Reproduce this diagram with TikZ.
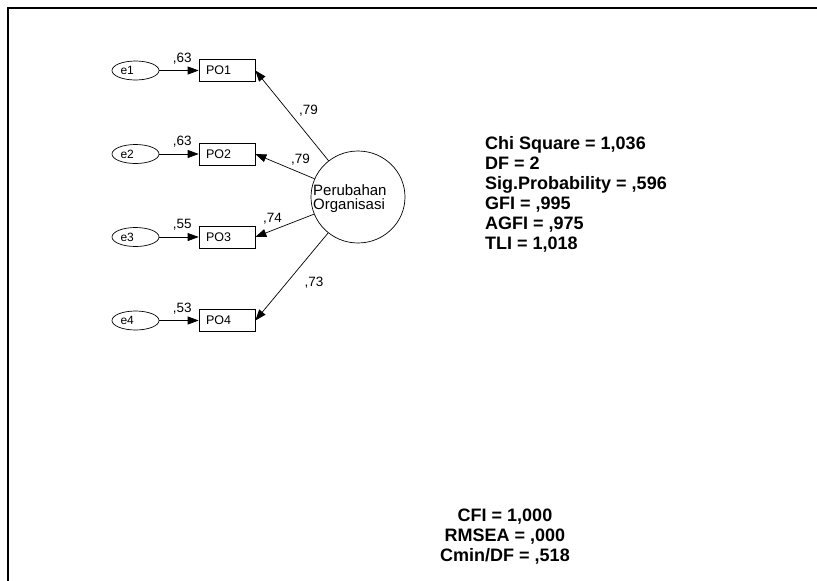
\documentclass[tikz,border=0pt]{standalone}
\usepackage{fontspec}
\setmainfont{Liberation Sans}
\usetikzlibrary{arrows.meta,shapes.geometric}
\begin{document}
\begin{tikzpicture}[x=1pt,y=-1pt,
  err/.style={ellipse, draw, line width=0.7pt, minimum width=47pt, minimum height=19pt, inner sep=0pt, text width=30pt, align=left, font=\fontsize{12}{14}\selectfont},
  obs/.style={rectangle, draw, line width=0.7pt, minimum width=56pt, minimum height=22pt, inner xsep=7pt, inner ysep=0pt, text width=42pt, align=left, font=\fontsize{12.5}{14}\selectfont},
  lat/.style={ellipse, draw, line width=0.7pt, minimum width=94pt, minimum height=92pt, inner sep=0pt},
  conn/.style={-{Triangle[length=11pt,width=8pt]}, line width=0.7pt},
  coef/.style={font=\fontsize{13.5}{15}\selectfont, inner sep=0pt},
  fitstat/.style={font=\fontsize{18}{20}\selectfont\bfseries, inner sep=0pt}
]
\useasboundingbox (0,0) rectangle (817,581);
\draw[line width=1.3pt] (8,581) -- (8,8) -- (817,8);

% latent factor
\node[lat] (F) at (358,197) {};
\node[font=\fontsize{15}{14}\selectfont, align=left, inner sep=0pt, anchor=north west] (Flbl) at (313,184) {Perubahan\\Organisasi};

% indicators and errors
\foreach \i/\y in {1/70.5, 2/154, 3/237, 4/320.5}{
  \node[obs] (PO\i) at (227,\y) {PO\i};
  \node[err] (e\i) at (135.5,\y) {e\i};
  \draw[conn] (e\i) -- (PO\i);
  \draw[conn] (F) -- (PO\i.east);
}

% error loadings
\node[coef, anchor=base west] (c1) at ([xshift=-26pt,yshift=-3pt]PO1.north west) {,63};
\node[coef, anchor=base west] (c2) at ([xshift=-26pt,yshift=-3pt]PO2.north west) {,63};
\node[coef, anchor=base west] (c3) at ([xshift=-26pt,yshift=-3pt]PO3.north west) {,55};
\node[coef, anchor=base west] (c4) at ([xshift=-26pt,yshift=-3pt]PO4.north west) {,53};

% factor loadings
\node[coef, anchor=base west] (l1) at (299,114) {,79};
\node[coef, anchor=base east] (l2) at (310,163) {,79};
\node[coef, anchor=base west] (l3) at (263,222) {,74};
\node[coef] (l4) at (314,283) {,73};

% fit statistics
\node[fitstat, align=left, anchor=north west] (stats) at (485,136) {Chi Square = 1,036\\DF = 2\\Sig.Probability = ,596\\GFI = ,995\\AGFI = ,975\\TLI = 1,018};
\node[fitstat, align=center, anchor=north] (stats2) at (505,509) {CFI = 1,000\\RMSEA = ,000\\Cmin/DF = ,518};
\end{tikzpicture}
\end{document}
